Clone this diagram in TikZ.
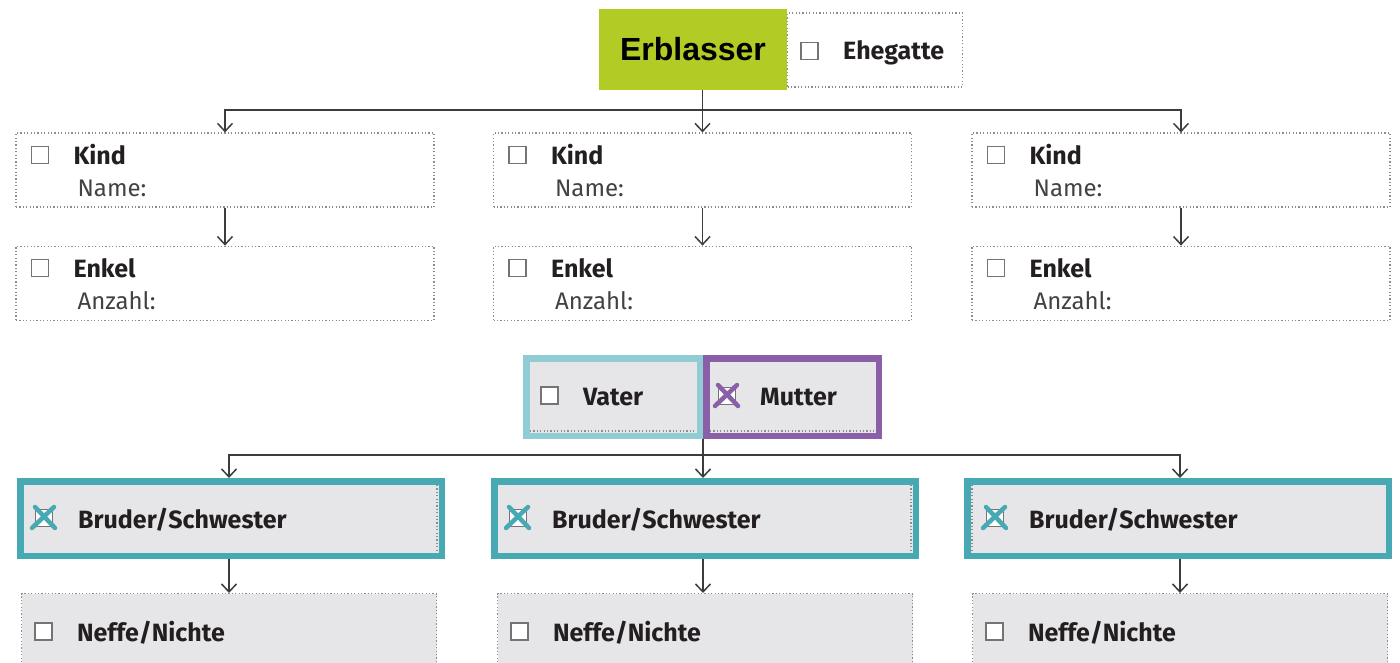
\documentclass[tikz,border=0pt]{standalone}
\usepackage{fontspec}
\setmainfont{Fira Sans}
\newfontfamily\arialfont{Liberation Sans}
\usetikzlibrary{arrows.meta,positioning}
\definecolor{erbgreen}{HTML}{B2CB25}
\definecolor{boxgray}{HTML}{E6E6E8}
\definecolor{lightteal}{HTML}{8FCCD4}
\definecolor{mutterpurple}{HTML}{8A5FA8}
\definecolor{brteal}{HTML}{47A9B4}
\definecolor{inkdark}{HTML}{231F20}
\definecolor{dotgray}{HTML}{8C8C8C}
\definecolor{linegray}{HTML}{3C3C3C}
\definecolor{boxline}{HTML}{747474}

\begin{document}
\begin{tikzpicture}
  [x=1pt,y=-1pt,>={Straight Barb[length=8pt,width=15pt]},
  dot line/.style={draw=dotgray,line width=1.2pt,dash pattern=on 1.2pt off 2.2pt},
  dotted box/.style={dot line,minimum width=418pt,minimum height=74pt},
  gray box/.style={dotted box,fill=boxgray,minimum width=415pt,minimum height=75pt},
  frame box/.style={fill=boxgray,line width=6.5pt,minimum height=77.5pt},
  check box/.style={draw=boxline,fill=white,line width=1.5pt,minimum size=17pt,inner sep=0pt},
  head text/.style={anchor=base west,inner sep=0pt,text=inkdark,font=\bfseries\fontsize{25}{29}\selectfont},
  field text/.style={anchor=base west,inner sep=0pt,text=inkdark!85,font=\fontsize{24}{28}\selectfont},
  teal cross/.style={draw=brteal,line width=4.5pt,line cap=round},
  purple cross/.style={draw=mutterpurple,line width=4.5pt,line cap=round},
  connector/.style={draw=linegray,line width=1.5pt}]
  \useasboundingbox (0,0) rectangle (1400,663);

  % Erblasser and Ehegatte
  \node [fill=erbgreen,minimum width=188pt,minimum height=81pt,
  font=\arialfont\bfseries\fontsize{32}{36}\selectfont] (erb) at (693,49.5) {Erblasser};
  \node [dot line,minimum width=175pt,minimum height=74pt] (ehe) at (875,50) {};
  \node [check box] (ehec) at ([shift={(22.5,38.5)}]ehe.north west) {};
  \node [head text] (ehet) at ([shift={(56,47)}]ehe.north west) {Ehegatte};

  % children and grandchildren
  \node [dotted box] (kind1) at (225,170) {};
  \node [dotted box] (kind2) at (702.5,170) {};
  \node [dotted box] (kind3) at (1181,170) {};
  \node [dotted box] (enkel1) [below=38pt of kind1] {};
  \node [dotted box] (enkel2) [below=38pt of kind2] {};
  \node [dotted box] (enkel3) [below=38pt of kind3] {};

  \node [check box] (kind1c) at ([shift={(24.5,22.5)}]kind1.north west) {};
  \node [head text] (kind1t) at ([shift={(58,32)}]kind1.north west) {Kind};
  \node [field text] (kind1n) at ([shift={(62,64)}]kind1.north west) {Name:};
  \node [check box] (kind2c) at ([shift={(24.5,22.5)}]kind2.north west) {};
  \node [head text] (kind2t) at ([shift={(58,32)}]kind2.north west) {Kind};
  \node [field text] (kind2n) at ([shift={(62,64)}]kind2.north west) {Name:};
  \node [check box] (kind3c) at ([shift={(24.5,22.5)}]kind3.north west) {};
  \node [head text] (kind3t) at ([shift={(58,32)}]kind3.north west) {Kind};
  \node [field text] (kind3n) at ([shift={(62,64)}]kind3.north west) {Name:};

  \node [check box] (enkel1c) at ([shift={(24.5,22.5)}]enkel1.north west) {};
  \node [head text] (enkel1t) at ([shift={(58,32)}]enkel1.north west) {Enkel};
  \node [field text] (enkel1n) at ([shift={(62,64)}]enkel1.north west) {Anzahl:};
  \node [check box] (enkel2c) at ([shift={(24.5,22.5)}]enkel2.north west) {};
  \node [head text] (enkel2t) at ([shift={(58,32)}]enkel2.north west) {Enkel};
  \node [field text] (enkel2n) at ([shift={(62,64)}]enkel2.north west) {Anzahl:};
  \node [check box] (enkel3c) at ([shift={(24.5,22.5)}]enkel3.north west) {};
  \node [head text] (enkel3t) at ([shift={(58,32)}]enkel3.north west) {Enkel};
  \node [field text] (enkel3n) at ([shift={(62,64)}]enkel3.north west) {Anzahl:};

  % parents
  \node [frame box,draw=lightteal,minimum width=173.5pt] (vater) at (613,397) {};
  \node [frame box,draw=mutterpurple,minimum width=172.5pt] (mutter) at (792.5,397) {};
  \draw [dot line] ([shift={(7,-8)}]vater.south west) -- ([shift={(-7,-8)}]vater.south east);
  \draw [dot line] ([shift={(7,-8)}]mutter.south west) -- ([shift={(-7,-8)}]mutter.south east);
  \node [check box] (vaterc) at ([shift={(26.5,40.5)}]vater.north west) {};
  \node [head text] (vatert) at ([shift={(60,50)}]vater.north west) {Vater};
  \node [check box] (mutterc) at ([shift={(24,41)}]mutter.north west) {};
  \node [head text] (muttert) at ([shift={(57,50)}]mutter.north west) {Mutter};
  \draw [purple cross] ([shift={(-9,-11)}]mutterc.center) -- ([shift={(11,10)}]mutterc.center);
  \draw [purple cross] ([shift={(10,-11)}]mutterc.center) -- ([shift={(-12,10)}]mutterc.center);

  % siblings and their children
  \node [frame box,draw=brteal,minimum width=421.5pt,minimum height=74.5pt] (bruder1) at (231,518.5) {};
  \node [frame box,draw=brteal,minimum width=421.5pt,minimum height=74.5pt] (bruder2) at (705,518.5) {};
  \node [frame box,draw=brteal,minimum width=421.5pt,minimum height=74.5pt] (bruder3) at (1178,518.5) {};
  \draw [dot line] ([shift={(-8,7)}]bruder1.north east) -- ([shift={(-8,-7)}]bruder1.south east);
  \draw [dot line] ([shift={(-8,7)}]bruder2.north east) -- ([shift={(-8,-7)}]bruder2.south east);
  \draw [dot line] ([shift={(8,7)}]bruder3.north west) -- ([shift={(8,-7)}]bruder3.south west);
  \node [gray box] (neffe1) [below=34pt of bruder1,xshift=-2pt] {};
  \node [gray box] (neffe2) [below=34pt of bruder2] {};
  \node [gray box] (neffe3) [below=34pt of bruder3,xshift=2pt] {};

  \node [check box] (bruder1c) at ([shift={(27,40)}]bruder1.north west) {};
  \node [head text] (bruder1t) at ([shift={(61,50)}]bruder1.north west) {Bruder/Schwester};
  \node [check box] (bruder2c) at ([shift={(27,40)}]bruder2.north west) {};
  \node [head text] (bruder2t) at ([shift={(61,50)}]bruder2.north west) {Bruder/Schwester};
  \node [check box] (bruder3c) at ([shift={(31,40)}]bruder3.north west) {};
  \node [head text] (bruder3t) at ([shift={(65,50)}]bruder3.north west) {Bruder/Schwester};
  \draw [teal cross] ([shift={(-9,-11)}]bruder1c.center) -- ([shift={(11,10)}]bruder1c.center);
  \draw [teal cross] ([shift={(10,-11)}]bruder1c.center) -- ([shift={(-12,10)}]bruder1c.center);
  \draw [teal cross] ([shift={(-9,-11)}]bruder2c.center) -- ([shift={(11,10)}]bruder2c.center);
  \draw [teal cross] ([shift={(10,-11)}]bruder2c.center) -- ([shift={(-12,10)}]bruder2c.center);
  \draw [teal cross] ([shift={(-9,-11)}]bruder3c.center) -- ([shift={(11,10)}]bruder3c.center);
  \draw [teal cross] ([shift={(10,-11)}]bruder3c.center) -- ([shift={(-12,10)}]bruder3c.center);

  \node [check box] (neffe1c) at ([shift={(22.5,38.5)}]neffe1.north west) {};
  \node [head text] (neffe1t) at ([shift={(56,48)}]neffe1.north west) {Neffe/Nichte};
  \node [check box] (neffe2c) at ([shift={(22.5,38.5)}]neffe2.north west) {};
  \node [head text] (neffe2t) at ([shift={(56,48)}]neffe2.north west) {Neffe/Nichte};
  \node [check box] (neffe3c) at ([shift={(22.5,38.5)}]neffe3.north west) {};
  \node [head text] (neffe3t) at ([shift={(56,48)}]neffe3.north west) {Neffe/Nichte};

  % connectors
  \coordinate (j1) at (kind2.north |- 0,110);
  \draw [connector] (kind2.north |- erb.south) -- (j1);
  \draw [connector,->] (j1) -| (kind1.north);
  \draw [connector,->] (j1) -- (kind2.north);
  \draw [connector,->] (j1) -| (kind3.north);
  \draw [connector,->] (kind1) -- (enkel1);
  \draw [connector,->] (kind2) -- (enkel2);
  \draw [connector,->] (kind3) -- (enkel3);

  \coordinate (j2) at (703,455);
  \draw [connector] (j2 |- vater.south) -- (j2);
  \draw [connector,->] (j2) -| ([xshift=-2pt]bruder1.north);
  \draw [connector,->] (j2) -- (j2 |- bruder2.north);
  \draw [connector,->] (j2) -| ([xshift=2pt]bruder3.north);
  \draw [connector,->] ([xshift=-2pt]bruder1.south) -- (neffe1);
  \draw [connector,->] ([xshift=-2pt]bruder2.south) -- ([xshift=-2pt]neffe2.north);
  \draw [connector,->] ([xshift=2pt]bruder3.south) -- (neffe3);
\end{tikzpicture}
\end{document}
